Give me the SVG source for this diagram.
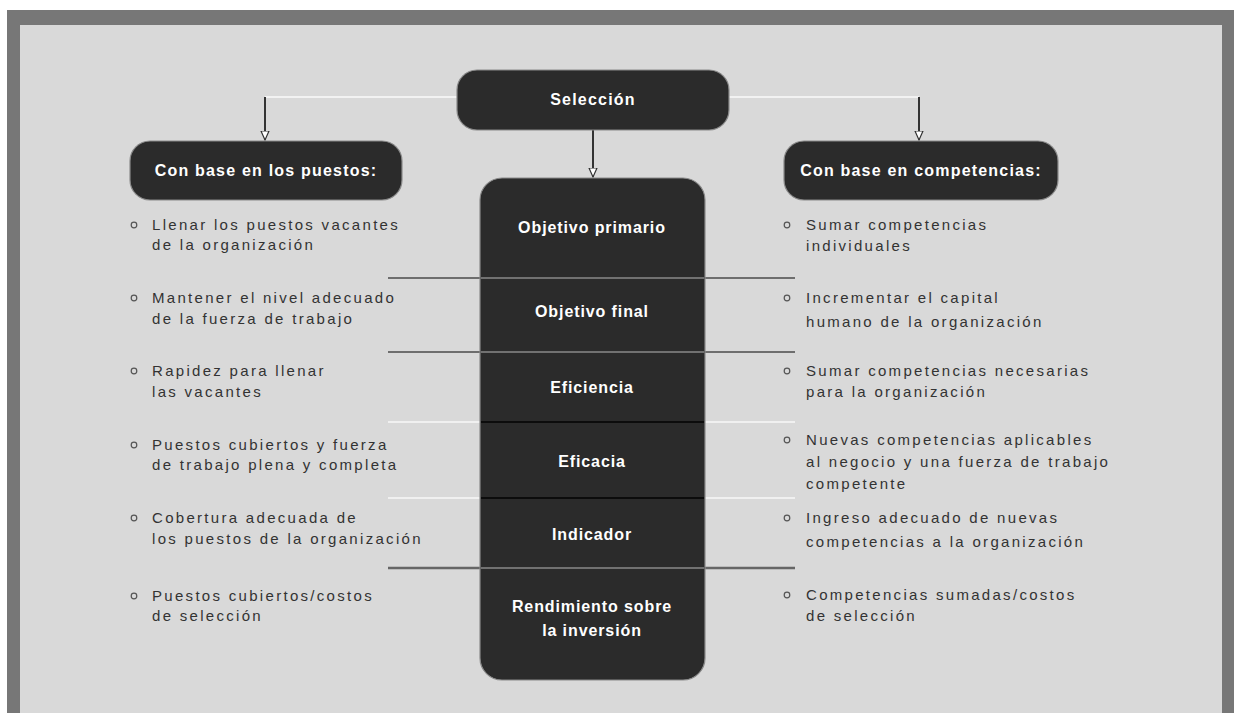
<svg xmlns="http://www.w3.org/2000/svg" width="1234" height="713" viewBox="0 0 1234 713">
  <defs>
    <style>
      .frame { fill: #777777; }
      .panel { fill: #d9d9d9; }
      .box { fill: #2b2b2b; stroke: #8a8a8a; stroke-width: 1.2; }
      .boxlabel { fill: #ffffff; font-family: "Liberation Sans", Arial, sans-serif; font-weight: bold; font-size: 16px; letter-spacing: 1.2px; text-anchor: middle; }
      .collabel { fill: #ffffff; font-family: "Liberation Sans", Arial, sans-serif; font-weight: bold; font-size: 16px; letter-spacing: 0.9px; text-anchor: middle; }
      .item { fill: #333333; font-family: "Liberation Sans", Arial, sans-serif; font-size: 15px; letter-spacing: 2.3px; }
      .bullet { fill: none; stroke: #555555; stroke-width: 1.2; }
      .link-h { stroke: #f2f2f2; stroke-width: 2; fill: none; }
      .link-v { stroke: #333333; stroke-width: 2; fill: none; }
      .sep-dark { stroke: #4a4a4a; stroke-width: 1.5; }
      .sep-light { stroke: #f0f0f0; stroke-width: 2; }
      .sep-mid { stroke: #666666; stroke-width: 2.5; }
      .inner-gray { stroke: #8a8a8a; stroke-width: 1.5; }
      .inner-black { stroke: #0c0c0c; stroke-width: 2; }
    </style>
    <!-- open arrowhead, drawn pointing along +x so orient="auto" turns it with the line -->
    <marker id="arrow" viewBox="0 0 10 10" refX="9" refY="5" markerWidth="10" markerHeight="10" markerUnits="userSpaceOnUse" orient="auto">
      <path d="M0,1 L9,5 L0,9 Z" fill="#ffffff" stroke="#333333" stroke-width="1.2"/>
    </marker>
  </defs>

  <!-- background frame -->
  <rect width="1234" height="713" fill="#ffffff"/>
  <rect class="frame" x="7" y="10" width="1227" height="703"/>
  <rect class="panel" x="20" y="25" width="1202" height="688"/>

  <!-- connectors -->
  <g id="connectors">
    <path class="link-h" d="M457,97 H265"/>
    <path class="link-h" d="M729,97 H919"/>
    <path class="link-v" d="M265,97 V140" marker-end="url(#arrow)"/>
    <path class="link-v" d="M919,97 V140" marker-end="url(#arrow)"/>
    <path class="link-v" d="M593,130 V177" marker-end="url(#arrow)"/>
  </g>

  <!-- row dividers that run across the table -->
  <g id="dividers">
    <line class="sep-dark" x1="388" y1="278" x2="480" y2="278"/>
    <line class="sep-dark" x1="705" y1="278" x2="795" y2="278"/>
    <line class="sep-dark" x1="388" y1="352" x2="480" y2="352"/>
    <line class="sep-dark" x1="705" y1="352" x2="795" y2="352"/>
    <line class="sep-light" x1="388" y1="422" x2="480" y2="422"/>
    <line class="sep-light" x1="705" y1="422" x2="795" y2="422"/>
    <line class="sep-light" x1="388" y1="498" x2="480" y2="498"/>
    <line class="sep-light" x1="705" y1="498" x2="795" y2="498"/>
    <line class="sep-mid" x1="388" y1="568" x2="480" y2="568"/>
    <line class="sep-mid" x1="705" y1="568" x2="795" y2="568"/>
  </g>

  <!-- top node -->
  <g id="seleccion">
    <rect class="box" x="457" y="70" width="272" height="60" rx="20" ry="20"/>
    <text class="boxlabel" x="593" y="105">Selección</text>
  </g>

  <!-- left header -->
  <g id="base-puestos">
    <rect class="box" x="130" y="141" width="272" height="59" rx="20" ry="20"/>
    <text class="boxlabel" x="266" y="176">Con base en los puestos:</text>
  </g>

  <!-- right header -->
  <g id="base-competencias">
    <rect class="box" x="784" y="141" width="274" height="59" rx="20" ry="20"/>
    <text class="boxlabel" x="921" y="176">Con base en competencias:</text>
  </g>

  <!-- central column of criteria -->
  <g id="criterios">
    <rect class="box" x="480" y="178" width="225" height="502" rx="22" ry="22"/>
    <line class="inner-gray" x1="481" y1="278" x2="704" y2="278"/>
    <line class="inner-gray" x1="481" y1="352" x2="704" y2="352"/>
    <line class="inner-black" x1="481" y1="422" x2="704" y2="422"/>
    <line class="inner-black" x1="481" y1="498" x2="704" y2="498"/>
    <line class="inner-gray" x1="481" y1="568" x2="704" y2="568"/>
    <text class="collabel" x="592" y="233">Objetivo primario</text>
    <text class="collabel" x="592" y="317">Objetivo final</text>
    <text class="collabel" x="592" y="393">Eficiencia</text>
    <text class="collabel" x="592" y="467">Eficacia</text>
    <text class="collabel" x="592" y="540">Indicador</text>
    <text class="collabel" x="592" y="612">Rendimiento sobre</text>
    <text class="collabel" x="592" y="636">la inversión</text>
  </g>

  <!-- left list -->
  <g id="lista-puestos">
    <circle class="bullet" cx="134" cy="225" r="2.8"/>
    <text class="item" x="152" y="230">Llenar los puestos vacantes</text>
    <text class="item" x="152" y="250">de la organización</text>
    <circle class="bullet" cx="134" cy="298" r="2.8"/>
    <text class="item" x="152" y="303">Mantener el nivel adecuado</text>
    <text class="item" x="152" y="324">de la fuerza de trabajo</text>
    <circle class="bullet" cx="134" cy="371" r="2.8"/>
    <text class="item" x="152" y="376">Rapidez para llenar</text>
    <text class="item" x="152" y="397">las vacantes</text>
    <circle class="bullet" cx="134" cy="445" r="2.8"/>
    <text class="item" x="152" y="450">Puestos cubiertos y fuerza</text>
    <text class="item" x="152" y="470">de trabajo plena y completa</text>
    <circle class="bullet" cx="134" cy="518" r="2.8"/>
    <text class="item" x="152" y="523">Cobertura adecuada de</text>
    <text class="item" x="152" y="544">los puestos de la organización</text>
    <circle class="bullet" cx="134" cy="596" r="2.8"/>
    <text class="item" x="152" y="601">Puestos cubiertos/costos</text>
    <text class="item" x="152" y="621">de selección</text>
  </g>

  <!-- right list -->
  <g id="lista-competencias">
    <circle class="bullet" cx="787" cy="225" r="2.8"/>
    <text class="item" x="806" y="230">Sumar competencias</text>
    <text class="item" x="806" y="251">individuales</text>
    <circle class="bullet" cx="787" cy="298" r="2.8"/>
    <text class="item" x="806" y="303">Incrementar el capital</text>
    <text class="item" x="806" y="327">humano de la organización</text>
    <circle class="bullet" cx="787" cy="371" r="2.8"/>
    <text class="item" x="806" y="376">Sumar competencias necesarias</text>
    <text class="item" x="806" y="397">para la organización</text>
    <circle class="bullet" cx="787" cy="440" r="2.8"/>
    <text class="item" x="806" y="445">Nuevas competencias aplicables</text>
    <text class="item" x="806" y="467">al negocio y una fuerza de trabajo</text>
    <text class="item" x="806" y="489">competente</text>
    <circle class="bullet" cx="787" cy="518" r="2.8"/>
    <text class="item" x="806" y="523">Ingreso adecuado de nuevas</text>
    <text class="item" x="806" y="547">competencias a la organización</text>
    <circle class="bullet" cx="787" cy="595" r="2.8"/>
    <text class="item" x="806" y="600">Competencias sumadas/costos</text>
    <text class="item" x="806" y="621">de selección</text>
  </g>
</svg>
